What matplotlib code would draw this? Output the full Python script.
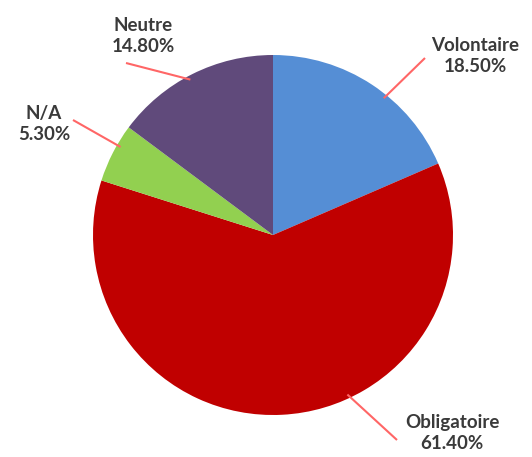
import numpy as np
import matplotlib.pyplot as plt

labels = ["Volontaire", "Obligatoire", "N/A", "Neutre"]
shares = [18.5, 61.4, 5.3, 14.8]
colors = ["#558ED5", "#C00000", "#92D050", "#604A7B"]

W, H = 532, 457
fig = plt.figure(figsize=(W / 100, H / 100), dpi=100)
ax = fig.add_axes([0, 0, 1, 1])

cx, cy, r = 273, H - 235, 180
ax.pie(shares, colors=colors, startangle=90, counterclock=False,
       center=(cx, cy), radius=r, frame=True,
       wedgeprops=dict(linewidth=0))
ax.set_xlim(0, W)
ax.set_ylim(0, H)
ax.set_aspect("equal")
ax.axis("off")

# label placement (pixel positions) and leader line anchor angles
label_pos = {"Volontaire": (475, 56), "Obligatoire": (452, 433),
             "N/A": (44, 124), "Neutre": (143, 36)}
anchor_ang = {"Volontaire": 51, "Obligatoire": -65, "N/A": 150, "Neutre": 118}
line_end = {"Volontaire": (425, 58), "Obligatoire": (397, 440),
            "N/A": (73, 120), "Neutre": (126, 63)}

for lab, val in zip(labels, shares):
    a = np.deg2rad(anchor_ang[lab])
    x0, y0 = cx + (r - 4) * np.cos(a), cy + (r - 4) * np.sin(a)
    ex, ey = line_end[lab]
    ax.plot([x0, ex], [y0, H - ey], color="#FF6666", lw=1.5,
            solid_capstyle="butt")
    tx, ty = label_pos[lab]
    ax.text(tx, H - ty, f"{lab}\n{val:.2f}%", ha="center", va="center",
            fontsize=13.5, fontweight="bold", color="#3A3A3A",
            family="Lato", linespacing=1.3)

fig.savefig("out.png", dpi=100)
